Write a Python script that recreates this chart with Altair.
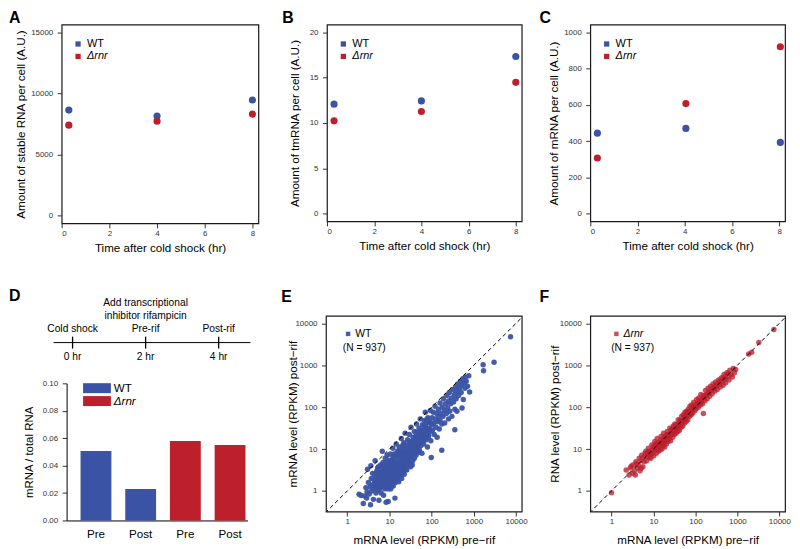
import altair as alt
import pandas as pd

BLUE = "#3a53a4"
RED = "#bd1f2d"
FONT = "Liberation Sans"
STRAINS = ["WT", "Δrnr"]
ITALIC_EXPR = {"expr": "datum.label == 'WT' ? 'normal' : 'italic'"}

# ---------------- Panels A-C ----------------
time_hr = [0.3, 4.0, 8.0]
time_hr_c = [0.3, 4.05, 8.05]
stable_rna_wt = [8640, 8150, 9460]
stable_rna_rnr = [7400, 7730, 8310]
tmrna_wt = [12.07, 12.43, 17.33]
tmrna_rnr = [10.24, 11.27, 14.48]
mrna_wt = [444, 470, 393]
mrna_rnr = [307, 607, 920]

# ---------------- Panel D ----------------
bar_strain = ["WT", "WT", "Δrnr", "Δrnr"]
bar_phase = ["Pre", "Post", "Pre", "Post"]
bar_ratio = [0.0507, 0.0229, 0.0580, 0.0551]
timeline_hr = [0, 2, 4]
timeline_event = ["Cold shock", "Pre-rif", "Post-rif"]
timeline_time = ["0 hr", "2 hr", "4 hr"]
timeline_note = ["Add transcriptional", "inhibitor rifampicin"]

# ---------------- Panels E, F (log10 RPKM: pre-rif, post-rif) ----------------
wt_log10 = [
    (0.28, -0.08), (0.33, -0.11), (0.38, -0.30), (0.41, -0.12), (0.44, 0.08), (0.46, -0.17), (0.47, -0.02),
    (0.48, 0.52), (0.50, 0.20), (0.52, -0.07), (0.54, 0.10), (0.55, -0.33), (0.56, 0.60), (0.57, 0.30),
    (0.58, 0.00), (0.60, 0.15), (0.60, 0.42), (0.62, -0.20),
    (0.63, 0.05), (0.64, 0.25), (0.65, 0.38), (0.66, 0.72), (0.67, 0.12), (0.68, -0.05), (0.69, 0.30),
    (0.70, 0.48), (0.71, 0.20), (0.72, 0.02), (0.73, 0.36), (0.74, 0.58), (0.75, -0.22), (0.75, 0.15),
    (0.76, 0.28), (0.77, 0.45), (0.78, 0.08), (0.79, 0.62), (0.80, 0.33), (0.80, -0.05),
    (0.81, 0.20), (0.82, 0.50), (0.83, 0.95), (0.84, 0.12), (0.85, 0.38), (0.85, 0.68), (0.86, -0.10),
    (0.87, 0.27), (0.88, 0.55), (0.89, 0.05), (0.90, 0.42), (0.90, 0.78), (0.91, 0.18), (0.92, -0.27),
    (0.92, 0.62), (0.93, 0.33), (0.94, 0.48), (0.95, 0.10), (0.95, 0.85), (0.96, 0.25), (0.97, 0.58),
    (0.97, -0.25), (0.98, 0.40), (0.98, 0.72), (0.99, 0.15), (1.00, 0.52),
    (1.01, 0.32), (1.02, 0.88), (1.03, 0.05), (1.03, 0.62), (1.04, 0.45), (1.05, 0.22), (1.06, 0.75),
    (1.07, 0.38), (1.08, 1.02), (1.08, 0.55), (1.09, 0.12), (1.10, 0.68), (1.10, 0.30), (1.11, 0.88),
    (1.12, 0.47), (1.13, -0.17), (1.13, 0.60), (1.14, 0.20), (1.15, 0.80), (1.15, 0.40), (1.16, 1.12),
    (1.17, 0.52), (1.18, 0.70), (1.18, 0.28), (1.19, 0.95), (1.20, 0.45), (1.20, 0.62),
    (1.21, 0.35), (1.22, 0.82), (1.23, 1.05), (1.23, 0.55), (1.24, 0.70), (1.25, 0.42), (1.26, 0.92),
    (1.27, 0.60), (1.28, 1.25), (1.28, 0.78), (1.29, 0.30), (1.30, 0.50), (1.30, 1.02), (1.31, 0.68),
    (1.32, 0.88), (1.33, 0.45), (1.34, 1.15), (1.34, 0.75), (1.35, 0.58), (1.36, 0.95), (1.37, 1.38),
    (1.37, 0.66), (1.38, 0.85), (1.39, 0.52), (1.40, 1.08), (1.40, 0.76),
    (1.41, 0.92), (1.42, 0.62), (1.43, 1.22), (1.44, 0.80), (1.45, 1.00), (1.46, 0.70), (1.47, 1.35),
    (1.48, 0.88), (1.49, 1.10), (1.50, 0.58), (1.50, 0.98), (1.51, 1.52), (1.52, 0.82), (1.53, 1.18),
    (1.54, 0.95), (1.55, 0.72), (1.56, 1.28), (1.57, 1.05), (1.58, 0.88), (1.59, 1.42), (1.60, 1.12),
    (1.61, 0.98), (1.62, 1.30), (1.63, 0.85), (1.64, 1.60), (1.65, 1.15), (1.66, 1.40), (1.67, 1.02),
    (1.68, 1.25), (1.69, 0.92), (1.70, 1.50), (1.71, 1.18), (1.72, 1.35), (1.73, 1.72), (1.74, 1.08),
    (1.75, 1.45), (1.76, 1.25), (1.77, 0.90), (1.78, 1.58), (1.79, 1.32),
    (1.81, 1.12), (1.82, 1.45), (1.83, 1.68), (1.84, 1.30), (1.85, 1.88), (1.86, 1.52), (1.87, 1.22),
    (1.88, 1.62), (1.89, 1.40), (1.90, 1.05), (1.91, 1.75), (1.92, 1.50), (1.93, 1.32), (1.95, 1.65),
    (1.96, 1.42), (1.97, 1.92), (1.98, 1.20), (1.99, 0.80), (2.00, 1.58),
    (2.01, 1.75), (2.02, 1.45), (2.04, 1.88), (2.05, 1.62), (2.06, 1.35), (2.08, 2.02), (2.09, 1.72),
    (2.10, 1.52), (2.12, 1.85), (2.13, 1.28), (2.14, 1.65), (2.16, 1.95), (2.17, 1.78), (2.18, 1.48),
    (2.20, 2.10), (2.20, 1.68),
    (2.22, 1.85), (2.24, 0.97), (2.24, 1.60), (2.25, 2.00), (2.27, 1.78), (2.28, 2.20), (2.30, 1.92),
    (2.31, 1.62), (2.33, 2.08), (2.35, 1.85), (2.36, 2.28), (2.38, 1.98), (2.40, 2.15), (2.40, 1.72),
    (2.42, 2.35), (2.43, 1.90), (2.45, 2.08), (2.47, 2.22), (2.48, 1.78), (2.50, 2.42), (2.52, 2.12),
    (2.54, 2.30), (2.55, 1.46), (2.55, 1.95), (2.57, 2.48), (2.58, 2.20), (2.60, 2.38), (2.60, 1.90),
    (2.62, 2.55), (2.64, 2.28), (2.66, 2.45), (2.68, 2.62), (2.70, 2.35), (2.72, 2.52), (2.72, 1.98),
    (2.74, 2.68), (2.75, 2.18), (2.77, 2.58), (2.79, 2.45), (2.80, 2.72), (2.82, 2.62), (2.85, 2.50),
    (2.88, 2.75), (2.90, 2.36),
    (3.22, 3.01), (3.23, 2.87), (3.48, 3.07), (3.87, 3.68),
    # dense core
    (0.66, 0.18), (0.68, 0.42), (0.70, 0.10), (0.72, 0.55), (0.74, 0.25), (0.76, 0.05), (0.78, 0.40),
    (0.80, 0.15), (0.82, 0.30), (0.83, 0.62), (0.85, 0.22), (0.87, 0.45), (0.88, 0.10), (0.90, 0.30),
    (0.91, 0.55), (0.93, 0.20), (0.94, 0.70), (0.96, 0.38), (0.97, 0.05), (0.99, 0.62), (1.00, 0.28),
    (1.02, 0.45), (1.04, 0.72), (1.05, 0.15), (1.06, 0.58), (1.08, 0.35), (1.09, 0.82), (1.11, 0.22),
    (1.12, 0.65), (1.14, 0.50), (1.16, 0.32), (1.17, 0.88), (1.19, 0.60), (1.21, 0.48), (1.22, 0.22),
    (1.24, 0.95), (1.25, 0.65), (1.27, 0.38), (1.29, 0.85), (1.31, 0.55), (1.32, 1.10), (1.33, 0.70),
    (1.35, 0.40), (1.36, 0.82), (1.38, 1.00), (1.39, 0.65), (1.41, 0.50), (1.43, 0.90), (1.45, 0.75),
    (1.47, 1.15), (1.48, 0.65), (1.50, 0.85), (1.52, 1.05), (1.54, 0.62), (1.55, 1.20), (1.57, 0.92),
    (1.59, 0.78), (1.61, 1.20), (1.63, 1.08), (1.65, 0.95), (1.67, 1.30), (1.69, 1.12), (1.71, 0.98),
    (1.73, 1.42), (1.75, 1.18), (1.77, 1.38), (1.80, 1.22), (1.83, 1.55), (1.86, 1.35), (1.89, 1.70),
    (1.92, 1.28), (1.95, 1.48), (1.98, 1.62),
]

rnr_log10 = [
    (0.00, -0.04), (0.35, 0.50), (0.42, 0.38), (0.47, 0.59), (0.51, 0.42), (0.51, 0.62), (0.57, 0.38),
    (0.58, 0.70), (0.62, 0.55), (0.66, 0.78), (0.68, 0.48), (0.71, 0.54), (0.72, 0.85), (0.75, 0.58),
    (0.78, 0.70), (0.80, 0.90),
    (0.82, 0.95), (0.84, 0.72), (0.86, 0.88), (0.88, 1.02), (0.90, 0.80), (0.92, 0.95), (0.94, 0.78),
    (0.96, 1.10), (0.98, 0.90),
    (1.00, 1.05), (1.01, 0.84), (1.03, 1.18), (1.04, 0.98), (1.06, 1.08), (1.07, 0.90), (1.09, 1.25),
    (1.10, 1.02), (1.12, 0.95), (1.13, 1.15), (1.15, 1.05), (1.16, 0.98), (1.18, 1.30), (1.19, 1.12),
    (1.20, 1.00), (1.21, 1.22), (1.23, 1.08), (1.24, 1.38), (1.25, 1.15), (1.27, 1.05), (1.28, 1.30),
    (1.30, 1.22), (1.31, 1.12), (1.33, 1.42), (1.34, 1.28), (1.35, 1.18), (1.37, 1.36), (1.38, 1.25),
    (1.39, 1.50),
    (1.40, 1.32), (1.41, 1.20), (1.43, 1.45), (1.44, 1.35), (1.46, 1.28), (1.47, 1.55), (1.48, 1.42),
    (1.50, 1.35), (1.51, 1.60), (1.52, 1.48), (1.54, 1.38), (1.55, 1.58), (1.57, 1.50), (1.58, 1.42),
    (1.59, 1.70),
    (1.60, 1.52), (1.62, 1.45), (1.63, 1.68), (1.64, 1.58), (1.66, 1.52), (1.67, 1.78), (1.68, 1.62),
    (1.70, 1.55), (1.71, 1.82), (1.72, 1.70), (1.74, 1.62), (1.75, 1.88), (1.77, 1.72), (1.78, 1.66),
    (1.79, 1.90),
    (1.80, 1.78), (1.82, 1.70), (1.83, 1.95), (1.84, 1.85), (1.86, 1.78), (1.87, 2.02), (1.88, 1.90),
    (1.90, 1.82), (1.91, 2.05), (1.93, 1.95), (1.94, 1.86), (1.96, 2.12), (1.97, 2.00), (1.99, 1.92),
    (2.00, 2.05), (2.02, 1.96), (2.03, 2.18), (2.05, 2.08), (2.07, 2.00), (2.08, 2.22), (2.10, 2.12),
    (2.12, 2.05), (2.13, 2.30), (2.15, 2.18), (2.17, 2.08), (2.19, 1.85), (2.19, 2.28),
    (2.21, 2.22), (2.23, 2.15), (2.24, 2.40), (2.26, 2.30), (2.28, 2.20), (2.30, 2.45), (2.32, 2.35),
    (2.34, 2.26), (2.36, 2.50), (2.38, 2.40),
    (2.40, 2.32), (2.42, 2.55), (2.44, 2.45), (2.46, 2.38), (2.48, 2.60), (2.50, 2.50), (2.52, 2.42),
    (2.55, 2.65), (2.57, 2.55), (2.59, 2.48),
    (2.62, 2.70), (2.64, 2.60), (2.66, 2.52), (2.68, 2.78), (2.70, 2.66), (2.72, 2.58), (2.75, 2.82),
    (2.77, 2.72), (2.80, 2.65), (2.82, 2.88), (2.85, 2.78), (2.88, 2.72), (2.90, 2.92), (2.93, 2.82),
    (2.96, 2.90),
    (3.27, 3.27), (3.34, 3.31), (3.51, 3.54), (3.87, 3.85),
    # dense core along the diagonal
    (0.45, 0.55), (0.55, 0.48), (0.60, 0.65), (0.64, 0.62), (0.70, 0.72), (0.76, 0.80),
    (0.85, 0.82), (0.89, 0.92), (0.93, 0.88), (0.97, 0.98), (1.02, 1.00), (1.05, 1.12), (1.08, 1.05),
    (1.11, 1.14), (1.14, 1.10), (1.17, 1.20), (1.22, 1.15), (1.26, 1.28), (1.29, 1.20), (1.32, 1.35),
    (1.36, 1.30), (1.42, 1.38), (1.45, 1.48), (1.49, 1.45), (1.53, 1.55), (1.56, 1.50), (1.61, 1.62),
    (1.65, 1.68), (1.69, 1.66), (1.73, 1.78), (1.76, 1.75), (1.81, 1.85), (1.85, 1.88), (1.89, 1.86),
    (1.92, 1.98), (1.98, 2.02), (2.04, 2.05), (2.09, 2.15), (2.14, 2.12), (2.18, 2.22), (2.25, 2.28),
    (2.29, 2.32), (2.35, 2.38), (2.41, 2.45), (2.47, 2.50), (2.53, 2.55), (2.58, 2.62), (2.65, 2.68),
    (2.71, 2.72), (2.78, 2.80),
]
n_genes_label = "(N = 937)"


def letter(t, dx, offset):
    return alt.TitleParams(text=t, anchor="start", frame="group", dx=dx, offset=offset,
                           fontSize=16, fontWeight="bold", font=FONT, color="black",
                           baseline="alphabetic")


def strain_scale(domain=STRAINS):
    rng = [BLUE if d == "WT" else RED for d in domain]
    return alt.Scale(domain=domain, range=rng)


def time_panel(times, wt, rnr, ydom, yvals, ytitle, title_x, letter_t, letter_dx, w, h):
    df = pd.DataFrame({
        "time": list(times) + list(times),
        "value": list(wt) + list(rnr),
        "strain": ["WT"] * len(wt) + ["Δrnr"] * len(rnr),
    })
    return alt.Chart(df).mark_circle(size=52, opacity=1).encode(
        x=alt.X("time:Q", scale=alt.Scale(domain=[0, 8.25], nice=False, zero=False),
                axis=alt.Axis(values=[0, 2, 4, 6, 8], title="Time after cold shock (hr)")),
        y=alt.Y("value:Q", scale=alt.Scale(domain=ydom, nice=False, zero=False),
                axis=alt.Axis(values=yvals, format="d", title=ytitle, titleX=title_x)),
        color=alt.Color("strain:N", scale=strain_scale(), legend=alt.Legend(
            orient="none", legendX=11, legendY=14, title=None, symbolType="square",
            symbolSize=28, symbolStrokeWidth=0, labelFontSize=11, labelOffset=3.5,
            rowPadding=0.5, labelColor="black", labelFontStyle=ITALIC_EXPR, padding=0)),
    ).properties(width=w, height=h, title=letter(letter_t, letter_dx, -14.6))


panel_a = time_panel(time_hr, stable_rna_wt, stable_rna_rnr, [-630, 15630], [0, 5000, 10000, 15000],
                     "Amount of stable RNA per cell (A.U.)", -35, "A", -53, 198, 200)
panel_b = time_panel(time_hr, tmrna_wt, tmrna_rnr, [-0.84, 20.84], [0, 5, 10, 15, 20],
                     "Amount of tmRNA per cell (A.U.)", -27, "B", -45, 196, 198)
panel_c = time_panel(time_hr_c, mrna_wt, mrna_rnr, [-42, 1042], [0, 200, 400, 600, 800, 1000],
                     "Amount of mRNA per cell (A.U.)", -31, "C", -51, 196, 198)

# ---------------- Panel D ----------------
bar_keys = [f"{s}|{p}" for s, p in zip(bar_strain, bar_phase)]
bar_df = pd.DataFrame({"key": bar_keys, "strain": bar_strain, "ratio": bar_ratio})
bars = alt.Chart(bar_df).mark_bar().encode(
    x=alt.X("key:N", sort=bar_keys,
            scale=alt.Scale(range=[5, 187], paddingInner=0.31, paddingOuter=0.178, align=0.875),
            axis=alt.Axis(title=None, labelExpr="split(datum.label, '|')[1]", ticks=False,
                          domain=True, domainColor="black", domainWidth=1, labelFontSize=11.7,
                          labelColor="black", labelPadding=8, labelAngle=0)),
    y=alt.Y("ratio:Q", scale=alt.Scale(domain=[0, 0.1], range=[206, 68], nice=False, zero=False),
            axis=alt.Axis(values=[0, 0.02, 0.04, 0.06, 0.08, 0.1], format=".2f",
                          title="mRNA / total RNA", titleX=-32, offset=-5, domain=True,
                          domainColor="black", domainWidth=1, titleFontSize=11.5)),
    color=alt.Color("strain:N", scale=strain_scale(), legend=alt.Legend(
        orient="none", legendX=29.7, legendY=67, title=None,
        symbolType="M-2.8,-1H2.8V1H-2.8Z", symbolSize=100, symbolStrokeWidth=0,
        labelFontSize=11.7, labelOffset=11, rowPadding=0, labelColor="black",
        labelFontStyle=ITALIC_EXPR, padding=0)),
)

tl_scale = alt.Scale(domain=[-0.299, 5.061], nice=False, zero=False)
tl_df = pd.DataFrame({"hr": timeline_hr, "event": timeline_event, "time": timeline_time})
tl_span = pd.DataFrame({"start": [-0.52], "end": [4.87]})
tl_line = alt.Chart(tl_span).mark_rule(color="black", strokeWidth=1).encode(
    x=alt.X("start:Q", scale=tl_scale, axis=None), x2="end:Q", y=alt.value(27))
tl_ticks = alt.Chart(tl_df).mark_rule(color="black", strokeWidth=1.3).encode(
    x=alt.X("hr:Q", scale=tl_scale, axis=None), y=alt.value(21), y2=alt.value(33))
tl_event = alt.Chart(tl_df).mark_text(fontSize=10.3, font=FONT, baseline="middle", color="black").encode(
    x=alt.X("hr:Q", scale=tl_scale, axis=None), y=alt.value(13), text="event:N")
tl_time = alt.Chart(tl_df).mark_text(fontSize=10.3, font=FONT, baseline="middle", color="black").encode(
    x=alt.X("hr:Q", scale=tl_scale, axis=None), y=alt.value(42), text="time:N")
note1 = alt.Chart(pd.DataFrame({"hr": [2], "text": [timeline_note[0]]})).mark_text(
    fontSize=10.3, font=FONT, baseline="middle", color="black").encode(
    x=alt.X("hr:Q", scale=tl_scale, axis=None), y=alt.value(-13), text="text:N")
note2 = alt.Chart(pd.DataFrame({"hr": [2], "text": [timeline_note[1]]})).mark_text(
    fontSize=10.3, font=FONT, baseline="middle", color="black").encode(
    x=alt.X("hr:Q", scale=tl_scale, axis=None), y=alt.value(0), text="text:N")

panel_d = alt.layer(bars, tl_line, tl_ticks, tl_event, tl_time, note1, note2).resolve_scale(
    x="independent", y="independent").properties(
    width=197, height=206, title=letter("D", -53, -19.6),
    view=alt.ViewBackground(stroke="transparent"))

# ---------------- Panels E, F ----------------
LOGX = alt.Scale(type="log", domain=[10 ** -0.505, 10 ** 4.135], nice=False)
LOGY = alt.Scale(type="log", domain=[10 ** -0.49, 10 ** 4.18], nice=False)
DECADES = [1, 10, 100, 1000, 10000]
diag_vals = [0.3, 15000]


def scatter_panel(pairs, strain, opacity, ytitle, title_x, letter_t, letter_dx, leg_x, italic, w):
    df = pd.DataFrame({
        "pre": [10 ** a for a, b in pairs],
        "post": [10 ** b for a, b in pairs],
        "strain": [strain] * len(pairs),
    })
    pts = alt.Chart(df).mark_circle(size=30, opacity=opacity).encode(
        x=alt.X("pre:Q", scale=LOGX, axis=alt.Axis(values=DECADES, format="d", titlePadding=8.7,
                                                    title="mRNA level (RPKM) pre\u2212rif")),
        y=alt.Y("post:Q", scale=LOGY, axis=alt.Axis(values=DECADES, format="d", title=ytitle,
                                                     titleX=title_x)),
        color=alt.Color("strain:N", scale=strain_scale([strain]), legend=alt.Legend(
            orient="none", legendX=leg_x, legendY=13, title=n_genes_label, titleOrient="bottom",
            titleAnchor="start", titleFontWeight="normal", titleFontSize=10.3, titleColor="black",
            titlePadding=3, symbolType="square", symbolSize=20, symbolStrokeWidth=0,
            labelFontSize=10.5, labelColor="black", labelOffset=2,
            labelFontStyle="italic" if italic else "normal", padding=0)),
    )
    diag = alt.Chart(pd.DataFrame({"pre": diag_vals, "post": diag_vals})).mark_line(
        color="black", strokeDash=[4, 3], strokeWidth=1, clip=True).encode(x="pre:Q", y="post:Q")
    return alt.layer(pts, diag).properties(width=w, height=197,
                                           title=letter(letter_t, letter_dx, -2.3))


panel_e = scatter_panel(wt_log10, "WT", 0.95, "mRNA level (RPKM) post\u2212rif", -28, "E", -45, 17, False, 197)
panel_f = scatter_panel(rnr_log10, "Δrnr", 0.78, "RNA level (RPKM) post\u2212rif", -30, "F", -51, 21, True, 196)

top = alt.hconcat(panel_a, panel_b, panel_c, spacing=69, bounds="flush").resolve_scale(color="independent")
bottom = alt.hconcat(panel_d, panel_e, panel_f, spacing=69, bounds="flush").resolve_scale(color="independent")

chart = alt.vconcat(top, bottom, spacing=293, bounds="flush").resolve_scale(
    color="independent").properties(padding=0).configure(font=FONT).configure_axis(
    labelFont=FONT, titleFont=FONT, labelFontSize=8, labelColor="#333333", tickColor="#333333",
    tickSize=4.5, tickWidth=1, grid=False, domain=False, labelPadding=3, titleFontSize=11.7,
    titleFontWeight="normal", titleColor="black", titlePadding=4).configure_axisX(
    labelPadding=2, titlePadding=5).configure_axisY(labelPadding=4.5).configure_view(
    stroke="#1a1a1a", strokeWidth=1.2).configure_legend(labelFont=FONT, titleFont=FONT)

chart.save("out.html", embed_options={"renderer": "svg", "actions": False})
